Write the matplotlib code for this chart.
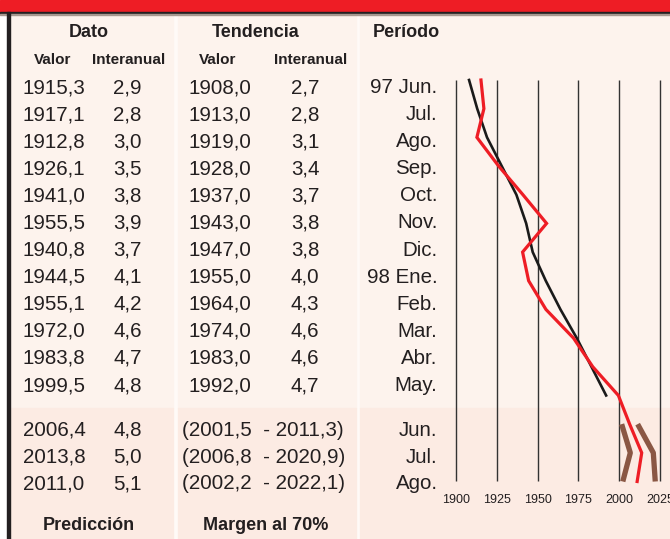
import matplotlib
matplotlib.use('Agg')
import matplotlib.pyplot as plt
from matplotlib.patches import Rectangle

plt.rcParams['font.family'] = ['Liberation Sans', 'DejaVu Sans']

# datos de la tabla
periodos = ['97 Jun.', 'Jul.', 'Ago.', 'Sep.', 'Oct.', 'Nov.', 'Dic.', '98 Ene.',
            'Feb.', 'Mar.', 'Abr.', 'May.', 'Jun.', 'Jul.', 'Ago.']
dato_valor = [1915.3, 1917.1, 1912.8, 1926.1, 1941.0, 1955.5, 1940.8, 1944.5,
              1955.1, 1972.0, 1983.8, 1999.5, 2006.4, 2013.8, 2011.0]
dato_inter = [2.9, 2.8, 3.0, 3.5, 3.8, 3.9, 3.7, 4.1, 4.2, 4.6, 4.7, 4.8,
              4.8, 5.0, 5.1]
tend_valor = [1908.0, 1913.0, 1919.0, 1928.0, 1937.0, 1943.0, 1947.0, 1955.0,
              1964.0, 1974.0, 1983.0, 1992.0]
tend_inter = [2.7, 2.8, 3.1, 3.4, 3.7, 3.8, 3.8, 4.0, 4.3, 4.6, 4.6, 4.7]
margen_inf = [2001.5, 2006.8, 2002.2]
margen_sup = [2011.3, 2020.9, 2022.1]
ticks = [1900, 1925, 1950, 1975, 2000, 2025]

ROJO = '#ee1d25'
MARRON = '#8a5744'
TXT = '#231f20'
CLARO = '#fdf3ed'
OSCURO = '#fcebe3'
HUECO = '#fffaf7'


def fmt(v):
    return f'{v:.1f}'.replace('.', ',')


W, H = 670, 539
fig = plt.figure(figsize=(W / 100, H / 100), dpi=100)
ax = fig.add_axes([0, 0, 1, 1])
ax.set_xlim(0, W)
ax.set_ylim(H, 0)
ax.axis('off')

# fondo, paneles y cabecera
ax.add_patch(Rectangle((0, 0), W, H, color='white', zorder=0))
ax.add_patch(Rectangle((9.5, 15), W - 9.5, H - 15, color=HUECO, zorder=0))
corte = 408
for x0, x1 in [(9.5, 173), (178, 355.5), (360, W)]:
    ax.add_patch(Rectangle((x0, 15), x1 - x0, corte - 15, color=CLARO, zorder=1))
    ax.add_patch(Rectangle((x0, corte), x1 - x0, H - corte, color=OSCURO, zorder=1))
ax.add_patch(Rectangle((0, 0), W, 11.5, color=ROJO, zorder=2))
ax.add_patch(Rectangle((0, 11.5), W, 2.7, color='#231f20', zorder=2))
ax.add_patch(Rectangle((0, 14.2), W, 1, color='#a89890', zorder=2))
ax.add_patch(Rectangle((7, 11.5), 2.5, H, color='#231f20', zorder=2))

# cabeceras
hb = dict(color=TXT, fontweight='bold', va='baseline', zorder=3)
ax.text(89, 37, 'Dato', ha='center', fontsize=13, **hb)
ax.text(256, 37, 'Tendencia', ha='center', fontsize=13, **hb)
ax.text(373, 37, 'Período', ha='left', fontsize=13, **hb)
for cx, t in [(53, 'Valor'), (128.7, 'Interanual'), (217.5, 'Valor'), (311, 'Interanual')]:
    ax.text(cx, 64, t, ha='center', fontsize=11, **hb)
ax.text(88.5, 530, 'Predicción', ha='center', fontsize=13, **hb)
ax.text(266, 530, 'Margen al 70%', ha='center', fontsize=13, **hb)

# filas
base = [93 + 27.1 * i for i in range(12)] + [436, 462.7, 489]
tr = dict(color=TXT, fontsize=14.8, va='baseline', zorder=3)
for i, y in enumerate(base):
    ax.text(22.5, y, fmt(dato_valor[i]), ha='left', **tr)
    ax.text(141.7, y, fmt(dato_inter[i]), ha='right', **tr)
    ax.text(437.5, y, periodos[i], ha='right', **tr)
    if i < len(tend_valor):
        ax.text(188, y, fmt(tend_valor[i]), ha='left', **tr)
        ax.text(305, y, fmt(tend_inter[i]), ha='center', **tr)
    else:
        j = i - len(tend_valor)
        ax.text(181.7, y, f'({fmt(margen_inf[j])}  - {fmt(margen_sup[j])})', ha='left', **tr)

# grafico de lineas
x0, x1 = 456, 660
y0, y1 = 80, 481.5
g = fig.add_axes([x0 / W, 1 - y1 / H, (x1 - x0) / W, (y1 - y0) / H])
g.set_xlim(1900, 2025)
g.set_ylim(14, 0)
g.patch.set_alpha(0)
for s in g.spines.values():
    s.set_visible(False)
g.vlines(ticks, 0, 14, color='#333333', lw=1, clip_on=False)
filas = list(range(len(dato_valor)))
g.plot(tend_valor, filas[:len(tend_valor)], color='#1a1a1a', lw=1.9, clip_on=False,
       solid_joinstyle='round')
g.plot(dato_valor, filas, color=ROJO, lw=2.3, clip_on=False, solid_joinstyle='miter')
fp = filas[len(tend_valor):]
g.plot(margen_inf, fp, color=MARRON, lw=3.8, clip_on=False, solid_capstyle='butt')
g.plot(margen_sup, fp, color=MARRON, lw=3.8, clip_on=False, solid_capstyle='butt')
g.set_yticks([])
g.set_xticks(ticks)
g.set_xticklabels([str(t) for t in ticks])
g.tick_params(axis='x', length=0, pad=9, labelsize=9, labelcolor=TXT)

fig.savefig('out.png', dpi=100)
